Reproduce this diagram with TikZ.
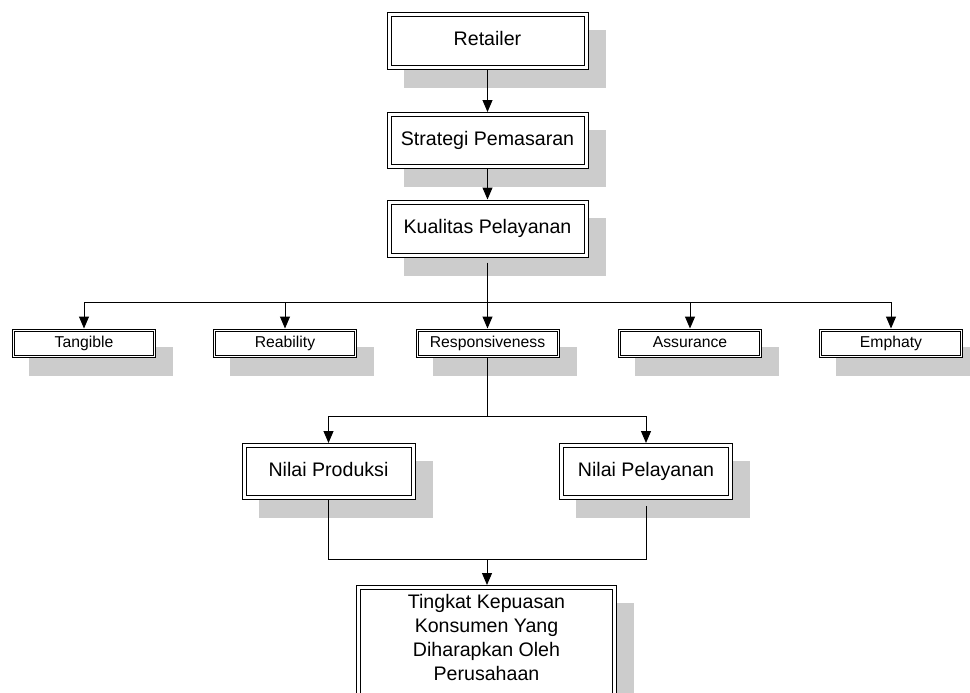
\documentclass[tikz,border=0pt]{standalone}
\usepackage{fontspec}
\setmainfont{Liberation Sans}
\usetikzlibrary{arrows.meta,backgrounds,calc}
\definecolor{shadowc}{HTML}{CCCCCC}
\tikzset{
  bigbox/.style={draw, fill=white, double, line width=0.75pt, double distance=2.25pt,
    outer sep=1.875pt, inner sep=0pt, align=center,
    font=\fontsize{14.7pt}{18pt}\selectfont},
  oneline/.style={text height=0.75em, text depth=0.05em},
  smallbox/.style={draw, fill=white, double, line width=0.75pt, double distance=0.75pt,
    outer sep=1.125pt, inner sep=0pt, minimum width=105.75pt, minimum height=19.5pt,
    font=\fontsize{11.8pt}{14pt}\selectfont, oneline},
  conn/.style={line width=0.75pt},
  arr/.style={line width=0.75pt, -{Triangle[length=9pt,width=7.5pt]}},
}
\newcommand{\shadowof}[1]{\fill[shadowc] ([shift={(17,18)}]#1.north west) rectangle ([shift={(17,18)}]#1.south east);}
\begin{document}
\begin{tikzpicture}[x=0.75pt,y=-0.75pt]
\useasboundingbox (0,0) rectangle (970,692);
% big boxes
\node[bigbox, oneline, minimum width=147.75pt, minimum height=39.75pt] (ret) at (487.5,41) {Retailer};
\node[bigbox, oneline, minimum width=147.75pt, minimum height=39pt] (str) at (487.5,140.5) {Strategi Pemasaran};
\node[bigbox, oneline, minimum width=147.75pt, minimum height=39.75pt] (kual) at (487.5,228.5) {Kualitas Pelayanan};
% small boxes
\node[smallbox] (tang) at (84,343) {Tangible};
\node[smallbox] (reab) at (285,343) {Reability};
\node[smallbox] (resp) at (487.5,343) {Responsiveness};
\node[smallbox] (assu) at (690,343) {Assurance};
\node[smallbox] (emph) at (891,343) {Emphaty};
% value boxes
\node[bigbox, oneline, minimum width=126.75pt, minimum height=39pt] (np) at (328.5,471.5) {Nilai Produksi};
\node[bigbox, oneline, minimum width=126.75pt, minimum height=39pt] (npel) at (646,471.5) {Nilai Pelayanan};
% result box
\node[bigbox, minimum width=192pt, minimum height=83.25pt] (ting) at (486.5,643)
  {\raisebox{0pt}[\height][\dimexpr\depth+4.5pt\relax]{\begin{tabular}{@{}c@{}}Tingkat Kepuasan\\Konsumen Yang\\Diharapkan Oleh\\Perusahaan\end{tabular}}};
% shadows
\begin{pgfonlayer}{background}
\shadowof{ret}
\shadowof{str}
\shadowof{kual}
\shadowof{tang}
\shadowof{reab}
\shadowof{resp}
\shadowof{assu}
\shadowof{emph}
\shadowof{np}
\shadowof{npel}
\shadowof{ting}
\end{pgfonlayer}
% connectors
\draw[arr] (ret.south) -- (str.north);
\draw[arr] (str.south) -- (kual.north);
\coordinate (bar1) at (487.5,302);
\draw[conn] ([yshift=-3.75pt]kual.south) -- (bar1);
\draw[conn] (tang.north |- bar1) -- (emph.north |- bar1);
\draw[arr] (tang.north |- bar1) -- (tang.north);
\draw[arr] (reab.north |- bar1) -- (reab.north);
\draw[arr] (bar1) -- (resp.north);
\draw[arr] (assu.north |- bar1) -- (assu.north);
\draw[arr] (emph.north |- bar1) -- (emph.north);
\coordinate (bar2) at (487.5,416);
\draw[conn] (resp.south) -- (bar2);
\draw[conn] (np.north |- bar2) -- (npel.north |- bar2);
\draw[arr] (np.north |- bar2) -- (np.north);
\draw[arr] (npel.north |- bar2) -- (npel.north);
\coordinate (bar3) at (487,559);
\draw[conn] (np.south) |- (bar3);
\draw[conn] ([yshift=-4.5pt]npel.south) |- (bar3);
\draw[arr] (bar3) -- (bar3 |- ting.north);
\end{tikzpicture}
\end{document}
